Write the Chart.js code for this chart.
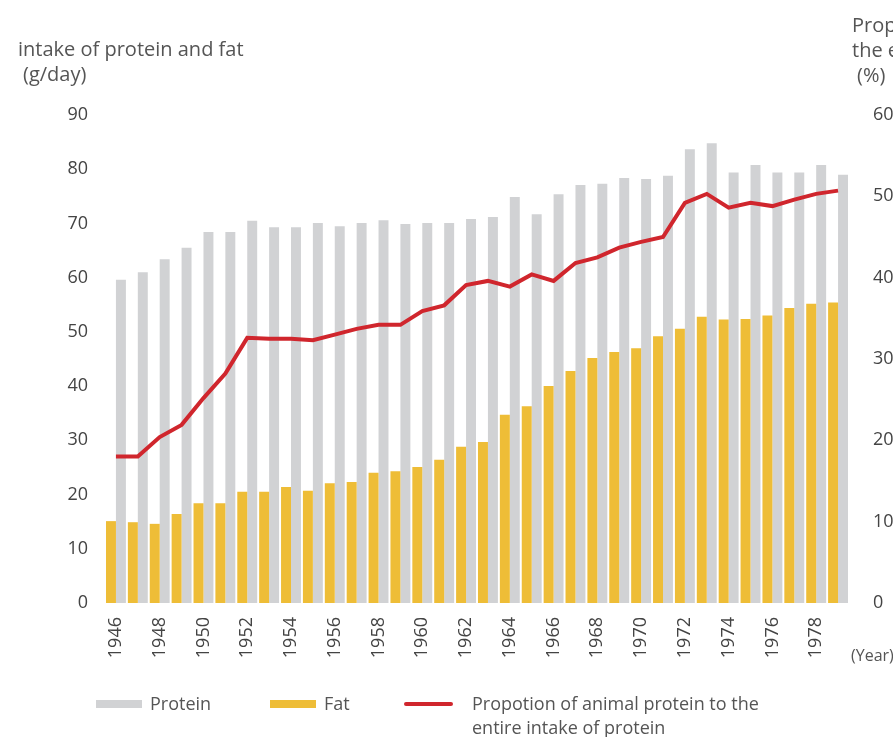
<!DOCTYPE html>
<html>
<head>
<meta charset="utf-8">
<script src="https://cdn.jsdelivr.net/npm/chart.js@4/dist/chart.umd.min.js"></script>
<style>
  html, body { margin: 0; padding: 0; background: #fff; overflow: hidden; }
  body { width: 893px; height: 737px; position: relative; font-family: "Open Sans", sans-serif; color: #555; }
  #chart { position: absolute; left: 0; top: 0; }
  .title { position: absolute; font-size: 20px; line-height: 25px; white-space: nowrap; }
  .legend { position: absolute; font-size: 18px; line-height: 24px; color: #555; white-space: nowrap; }
  .swatch { position: absolute; }
</style>
</head>
<body>
<canvas id="chart" width="893" height="737"></canvas>

<div class="title" style="left:18px; top:36px;">intake of protein and fat<br><span style="padding-left:5px">(g/day)</span></div>
<div class="title" style="left:852px; top:12px;">Propotion of animal protein to<br>the entire intake of protein<br><span style="padding-left:5px">(%)</span></div>
<div class="legend" style="left:851px; top:643px; font-size:16px;">(Year)</div>

<div class="swatch" style="left:96px; top:700px; width:46px; height:8px; background:#d1d2d4;"></div>
<div class="legend" style="left:150px; top:691px;">Protein</div>
<div class="swatch" style="left:270px; top:700px; width:46px; height:8px; background:#eebd37;"></div>
<div class="legend" style="left:324px; top:691px;">Fat</div>
<div class="swatch" style="left:404px; top:702px; width:49px; height:4px; background:#d0262d; border-radius:2px;"></div>
<div class="legend" style="left:472px; top:691px;">Propotion of animal protein to the<br>entire intake of protein</div>

<script>
const years = [1946, 1947, 1948, 1949, 1950, 1951, 1952, 1953, 1954, 1955, 1956, 1957,
               1958, 1959, 1960, 1961, 1962, 1963, 1964, 1965, 1966, 1967, 1968, 1969,
               1970, 1971, 1972, 1973, 1974, 1975, 1976, 1977, 1978, 1979];

// g/day
const protein = [59.6, 61.0, 63.4, 65.5, 68.4, 68.4, 70.5, 69.3, 69.3, 70.1, 69.5, 70.1,
                 70.6, 69.9, 70.1, 70.1, 70.8, 71.2, 74.9, 71.7, 75.4, 77.1, 77.3, 78.4,
                 78.2, 78.8, 83.7, 84.8, 79.4, 80.8, 79.4, 79.4, 80.8, 79.0];
const fat = [15.1, 14.9, 14.6, 16.4, 18.4, 18.4, 20.5, 20.5, 21.4, 20.7, 22.1, 22.3,
             24.0, 24.3, 25.1, 26.4, 28.8, 29.7, 34.7, 36.3, 40.0, 42.8, 45.2, 46.3,
             47.0, 49.2, 50.6, 52.8, 52.3, 52.4, 53.0, 54.4, 55.2, 55.4];
// % of protein that is animal protein
const animalShare = [18.0, 18.0, 20.4, 21.9, 25.2, 28.2, 32.6, 32.5, 32.5, 32.3, 33.0, 33.7,
                     34.2, 34.2, 35.9, 36.6, 39.1, 39.6, 38.9, 40.4, 39.6, 41.8, 42.5, 43.7,
                     44.4, 45.0, 49.2, 50.3, 48.6, 49.2, 48.8, 49.6, 50.3, 50.7];

const leftTicks = { min: 0, max: 90, step: 10 };
const rightTicks = { min: 0, max: 60, step: 10 };

const tickFont = { family: "Open Sans", size: 18 };
const tickColor = "#444";

new Chart(document.getElementById("chart"), {
  type: "bar",
  data: {
    labels: years.map(String),
    datasets: [
      {
        label: "Fat",
        data: fat,
        backgroundColor: "#eebd37",
        categoryPercentage: 0.91,
        barPercentage: 1,
        yAxisID: "y",
        order: 2
      },
      {
        label: "Protein",
        data: protein,
        backgroundColor: "#d1d2d4",
        categoryPercentage: 0.91,
        barPercentage: 1,
        yAxisID: "y",
        order: 2
      },
      {
        type: "line",
        label: "Propotion of animal protein to the entire intake of protein",
        data: animalShare,
        borderColor: "#d0262d",
        borderWidth: 4,
        pointRadius: 0,
        tension: 0,
        yAxisID: "yR",
        order: 1
      }
    ]
  },
  options: {
    responsive: false,
    animation: false,
    layout: { padding: { top: 115, left: 0, right: 0, bottom: 0 } },
    plugins: { legend: { display: false }, tooltip: { enabled: false } },
    scales: {
      x: {
        grid: { display: false },
        border: { display: false },
        ticks: {
          autoSkip: false,
          minRotation: 90,
          maxRotation: 90,
          padding: 6,
          color: tickColor,
          font: tickFont,
          callback: function (val, i) { return i % 2 === 0 ? this.getLabelForValue(val) : ""; }
        },
        afterFit: s => { s.height = 737 - 603; }
      },
      y: {
        position: "left",
        min: leftTicks.min,
        max: leftTicks.max,
        grid: { display: false },
        border: { display: false },
        ticks: { stepSize: leftTicks.step, padding: 9, color: tickColor, font: tickFont },
        afterFit: s => { s.width = 105; }
      },
      yR: {
        position: "right",
        min: rightTicks.min,
        max: rightTicks.max,
        grid: { display: false },
        border: { display: false },
        ticks: { stepSize: rightTicks.step, padding: 16, color: tickColor, font: tickFont },
        afterFit: s => { s.width = 893 - 849; }
      }
    }
  }
});
</script>
</body>
</html>
